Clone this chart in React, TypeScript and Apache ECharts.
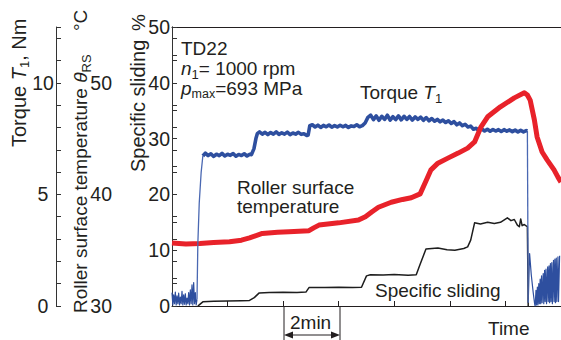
import React, { useEffect, useRef } from "react";
import * as echarts from "echarts";

// ---- data (time in minutes) ----
// Torque T1, Nm : idle noise before the run
const torqueIdle: number[][] = [
  [0.0, 0.6], [0.03, 0.05], [0.06, 0.5], [0.09, 0.1], [0.12, 0.62], [0.15, 0.05], [0.18, 0.45],
  [0.21, 0.1], [0.24, 0.58], [0.27, 0.05], [0.3, 0.4], [0.33, 0.1], [0.36, 0.66], [0.39, 0.05],
  [0.42, 0.5], [0.45, 0.08], [0.48, 0.55], [0.51, 0.05], [0.54, 0.35], [0.57, 0.1], [0.6, 0.6],
  [0.63, 0.05], [0.66, 0.72], [0.69, 0.1], [0.72, 0.95], [0.75, 0.05], [0.78, 1.05], [0.81, 0.1],
  [0.84, 0.6], [0.87, 0.05], [0.9, 0.3],
];
// Torque: start-up rise
const torqueRise: number[][] = [[0.9, 0.3], [0.93, 2.8], [0.98, 4.6], [1.05, 6.0], [1.11, 6.72]];
// Torque: running
const torqueRun: number[][] = [
  [1.11, 6.72], [1.2, 6.85], [1.3, 6.74], [1.4, 6.82], [1.5, 6.7], [1.6, 6.8], [1.7, 6.74], [1.8, 6.84],
  [1.9, 6.72], [2.0, 6.8], [2.1, 6.75], [2.2, 6.83], [2.3, 6.71], [2.4, 6.79], [2.5, 6.74], [2.6, 6.82],
  [2.7, 6.72], [2.8, 6.8], [2.86, 6.78], [2.95, 7.05], [3.02, 7.5], [3.07, 7.72],
  [3.15, 7.8], [3.25, 7.7], [3.35, 7.78], [3.45, 7.68], [3.55, 7.77], [3.65, 7.7], [3.75, 7.8], [3.85, 7.69],
  [3.95, 7.76], [4.05, 7.7], [4.15, 7.79], [4.25, 7.68], [4.35, 7.75], [4.45, 7.7], [4.55, 7.78], [4.65, 7.69],
  [4.75, 7.72], [4.85, 7.64], [4.9, 7.66], [4.96, 8.08],
  [5.05, 8.12], [5.15, 8.02], [5.25, 8.1], [5.35, 8.0], [5.45, 8.09], [5.55, 8.03], [5.65, 8.11], [5.75, 8.01],
  [5.85, 8.08], [5.95, 8.02], [6.05, 8.1], [6.15, 8.03], [6.25, 8.09], [6.35, 8.0], [6.45, 8.07], [6.55, 8.04],
  [6.65, 8.12], [6.75, 8.03], [6.85, 8.08], [6.95, 8.2], [7.05, 8.45],
  [7.15, 8.55], [7.25, 8.35], [7.35, 8.52], [7.45, 8.32], [7.55, 8.5], [7.65, 8.36], [7.75, 8.55], [7.85, 8.33],
  [7.95, 8.48], [8.05, 8.35], [8.15, 8.52], [8.25, 8.34], [8.35, 8.5], [8.45, 8.36], [8.55, 8.49], [8.65, 8.33],
  [8.75, 8.47], [8.85, 8.36], [8.95, 8.46], [9.05, 8.32], [9.15, 8.44],
  [9.25, 8.3], [9.35, 8.4], [9.45, 8.28], [9.55, 8.36], [9.65, 8.25], [9.75, 8.33], [9.85, 8.22], [9.95, 8.3],
  [10.05, 8.18], [10.15, 8.26], [10.25, 8.12], [10.35, 8.2], [10.45, 8.08], [10.55, 8.14], [10.65, 8.02],
  [10.75, 8.06], [10.85, 7.92], [10.95, 7.96],
  [11.05, 7.85], [11.15, 7.93], [11.25, 7.84], [11.35, 7.92], [11.45, 7.83], [11.55, 7.91], [11.65, 7.84],
  [11.75, 7.9], [11.85, 7.82], [11.95, 7.9], [12.05, 7.83], [12.15, 7.89], [12.25, 7.81], [12.35, 7.88],
  [12.45, 7.8], [12.55, 7.87], [12.65, 7.8], [12.75, 7.86], [12.79, 7.84],
];
// Torque: stop
const torqueDrop: number[][] = [[12.79, 7.84], [12.82, 0.15]];
// Torque: after stop
const torqueAfter: number[][] = [
  [12.82, 0.15], [12.87, 2.35], [12.93, 1.4], [13.0, 0.6], [13.05, 0.1], [13.07, 0], [13.1, 0.7], [13.12, 0.05],
  [13.15, 0.85], [13.17, 0.05], [13.2, 1.0], [13.22, 0.1], [13.25, 1.2], [13.27, 0.1], [13.3, 1.35], [13.32, 0.15],
  [13.36, 1.45], [13.38, 0.1], [13.41, 1.6], [13.43, 0.2], [13.46, 1.65], [13.48, 0.1], [13.52, 1.75], [13.54, 0.2],
  [13.57, 1.8], [13.59, 0.15], [13.62, 1.9], [13.64, 0.2], [13.67, 1.95], [13.69, 0.1], [13.73, 2.05], [13.75, 0.2],
  [13.78, 2.1], [13.8, 0.15], [13.83, 2.15], [13.85, 0.2], [13.89, 2.2], [13.91, 0.2], [13.95, 2.25],
];
// Roller surface temperature, °C
const temperature: number[][] = [
  [0, 35.65], [0.5, 35.55], [1.0, 35.6], [1.5, 35.7], [2.07, 35.75], [2.5, 35.9], [2.79, 36.1], [3.25, 36.5],
  [3.8, 36.6], [4.21, 36.65], [4.93, 36.75], [5.1, 37.0], [5.29, 37.25], [6.0, 37.45], [6.71, 37.7],
  [6.96, 38.0], [7.2, 38.45], [7.43, 38.85], [7.89, 39.3], [8.3, 39.55], [8.61, 39.7], [8.93, 40.05],
  [9.14, 41.2], [9.32, 42.2], [9.57, 42.8], [9.93, 43.25], [10.3, 43.7], [10.64, 44.15], [10.89, 44.7],
  [11.11, 46.0], [11.36, 46.95], [11.82, 47.85], [12.32, 48.65], [12.68, 49.1], [12.79, 48.9], [12.89, 48.45],
  [13.04, 46.7], [13.14, 45.15], [13.32, 43.8], [13.5, 43.1], [13.75, 42.2], [13.89, 41.55], [14.0, 41.1],
];
// Specific sliding, %
const sliding: number[][] = [
  [0.93, 0], [0.98, 0.2], [1.11, 0.75], [1.5, 0.85], [2.0, 0.9], [2.5, 0.95], [2.79, 1.0], [2.96, 1.5],
  [3.14, 2.35], [3.5, 2.4], [4.0, 2.45], [4.5, 2.4], [4.82, 2.5], [4.93, 3.3], [5.5, 3.3], [6.0, 3.35],
  [6.5, 3.3], [6.82, 3.35], [7.0, 5.4], [7.14, 5.6], [7.6, 5.55], [8.0, 5.65], [8.5, 5.5], [8.79, 5.6],
  [8.93, 7.5], [9.14, 10.2], [9.57, 10.4], [9.9, 10.1], [10.18, 10.0], [10.5, 10.3], [10.64, 10.6],
  [10.75, 11.8], [10.89, 14.9], [11.1, 14.7], [11.36, 15.0], [11.6, 14.8], [11.82, 15.0], [12.07, 15.8],
  [12.2, 15.3], [12.32, 15.5], [12.43, 14.5], [12.5, 14.2], [12.55, 15.6], [12.6, 14.4], [12.68, 14.6],
  [12.79, 14.2], [12.82, 0],
];
// tick labels
const slidingLabels = [0, 10, 20, 30, 40, 50];
const temperatureLabels = [30, 40, 50];
const torqueLabels = [0, 5, 10];

const FONT = "'Liberation Sans', Arial, Helvetica, sans-serif";
const INK = "#231f20";
const BLUE = "#2e4f9f";
const BLUE_THIN = "#4a68b2";
const RED = "#e8222a";
const AXIS = "#333";

const rich = (size: number, sub: number) => ({
  r: { fontSize: size, fontFamily: FONT, lineHeight: 24, fill: INK, color: INK },
  i: { fontSize: size, fontFamily: FONT, fontStyle: "italic", lineHeight: 24, fill: INK, color: INK },
  s: { fontSize: sub, fontFamily: FONT, lineHeight: 12, verticalAlign: "bottom", fill: INK, color: INK },
});

const label = (x: number, y: number, text: string, size = 19, align = "left", rotation = 0, sub = 13, lineHeight?: number) => {
  const isRich = text.indexOf("{") >= 0;
  return {
    type: "text",
    x,
    y,
    rotation,
    silent: true,
    style: {
      text,
      ...(isRich ? { rich: rich(size, sub) } : {}),
      ...(lineHeight ? { lineHeight } : {}),
      font: `${size}px ${FONT}`,
      fontSize: size,
      fontFamily: FONT,
      fill: INK,
      align,
      verticalAlign: "middle",
      textAlign: align,
      textVerticalAlign: "middle",
    },
  };
};

const seg = (x1: number, y1: number, x2: number, y2: number) => ({
  type: "line",
  silent: true,
  shape: { x1, y1, x2, y2 },
  style: { stroke: INK, lineWidth: 1 },
});

export default function App() {
  const ref = useRef<HTMLDivElement>(null);
  useEffect(() => {
    document.body.style.margin = "0";
    if (!ref.current) return;
    const chart = echarts.init(ref.current, undefined, { renderer: "svg" });
    const yBase = {
      type: "value",
      position: "left",
      axisLine: { show: true, lineStyle: { color: AXIS, width: 1 } },
      axisTick: { show: true, inside: true, length: 5, lineStyle: { color: AXIS } },
      splitLine: { show: false },
    };
    const line = (data: number[][], yAxisIndex: number, color: string, width: number, z: number) => ({
      type: "line",
      data,
      xAxisIndex: 0,
      yAxisIndex,
      symbol: "none",
      showSymbol: false,
      silent: true,
      z,
      lineStyle: { color, width, join: "round" },
    });
    chart.setOption({
      animation: false,
      grid: { left: 172, top: 27, right: -3, height: 279, containLabel: false },
      xAxis: [
        {
          type: "value",
          min: 0,
          max: 14,
          interval: 2,
          position: "bottom",
          axisLine: { show: true, lineStyle: { color: INK, width: 1 } },
          axisTick: { show: true, inside: true, length: 5, lineStyle: { color: INK } },
          axisLabel: { show: false },
          splitLine: { show: false },
        },
        {
          type: "value",
          min: 0,
          max: 14,
          position: "top",
          axisLine: { show: true, onZero: false, lineStyle: { color: INK, width: 1 } },
          axisTick: { show: false },
          axisLabel: { show: false },
          splitLine: { show: false },
        },
      ],
      yAxis: [
        {
          ...yBase,
          min: 0,
          max: 50,
          interval: 5,
          offset: 0,
          axisLabel: {
            formatter: (v: number) => (slidingLabels.includes(v) ? String(v) : ""),
            fontSize: 19.5,
            fontFamily: FONT,
            color: INK,
            margin: 2,
          },
        },
        {
          ...yBase,
          min: 30,
          max: 55,
          interval: 2,
          offset: 57,
          axisLabel: {
            formatter: (v: number) => (temperatureLabels.includes(v) ? String(v) : ""),
            fontSize: 19.5,
            fontFamily: FONT,
            color: INK,
            margin: 3,
          },
        },
        {
          ...yBase,
          min: 0,
          max: 12.5,
          interval: 1,
          offset: 116,
          axisLabel: {
            formatter: (v: number) => (torqueLabels.includes(v) ? String(v) : ""),
            fontSize: 19.5,
            fontFamily: FONT,
            color: INK,
            margin: 13,
            align: "center",
          },
        },
      ],
      series: [
        line(torqueIdle, 2, BLUE, 1.2, 2),
        line(torqueRun, 2, BLUE, 3.6, 2),
        line(torqueAfter, 2, BLUE, 1.2, 2),
        line(temperature, 1, RED, 5, 3),
        line(sliding, 0, "#1e1e1e", 1.5, 4),
        line(torqueRise, 2, BLUE_THIN, 1.3, 5),
        line(torqueDrop, 2, BLUE_THIN, 1.3, 5),
      ],
      graphic: [
        label(181, 48, "TD22"),
        label(181, 68.5, "{i|n}{s|1}{r|= 1000 rpm}"),
        label(181, 88, "{i|p}{s|max}{r|=693 MPa}", 19, "left", 0, 12.5),
        label(360, 92.5, "{r|Torque }{i|T}{s|1}"),
        label(237, 197, "Roller surface\ntemperature", 19, "left", 0, 13, 19),
        label(375, 290, "Specific sliding"),
        label(488, 328, "Time"),
        label(290, 322.5, "2min"),
        // rotated axis names
        label(18.5, 147, "{r|Torque }{i|T}{s|1}{r|, Nm}", 20, "left", Math.PI / 2),
        label(80.5, 313, "{r|Roller surface temperature }{i|θ}{s|RS}", 19, "left", Math.PI / 2),
        label(80.5, 31, "°C", 19, "left", Math.PI / 2),
        label(138, 172, "Specific sliding", 20, "left", Math.PI / 2),
        label(138, 31, "%", 19, "left", Math.PI / 2),
        // 2 min bracket
        seg(284, 307, 284, 340),
        seg(340, 307, 340, 340),
        seg(290, 335, 334, 335),
        {
          type: "polygon",
          silent: true,
          shape: { points: [[284, 335], [293, 331.5], [293, 338.5]] },
          style: { fill: INK },
        },
        {
          type: "polygon",
          silent: true,
          shape: { points: [[340, 335], [331, 331.5], [331, 338.5]] },
          style: { fill: INK },
        },
      ],
    });
    return () => chart.dispose();
  }, []);
  return <div ref={ref} style={{ width: 561, height: 340 }} />;
}
